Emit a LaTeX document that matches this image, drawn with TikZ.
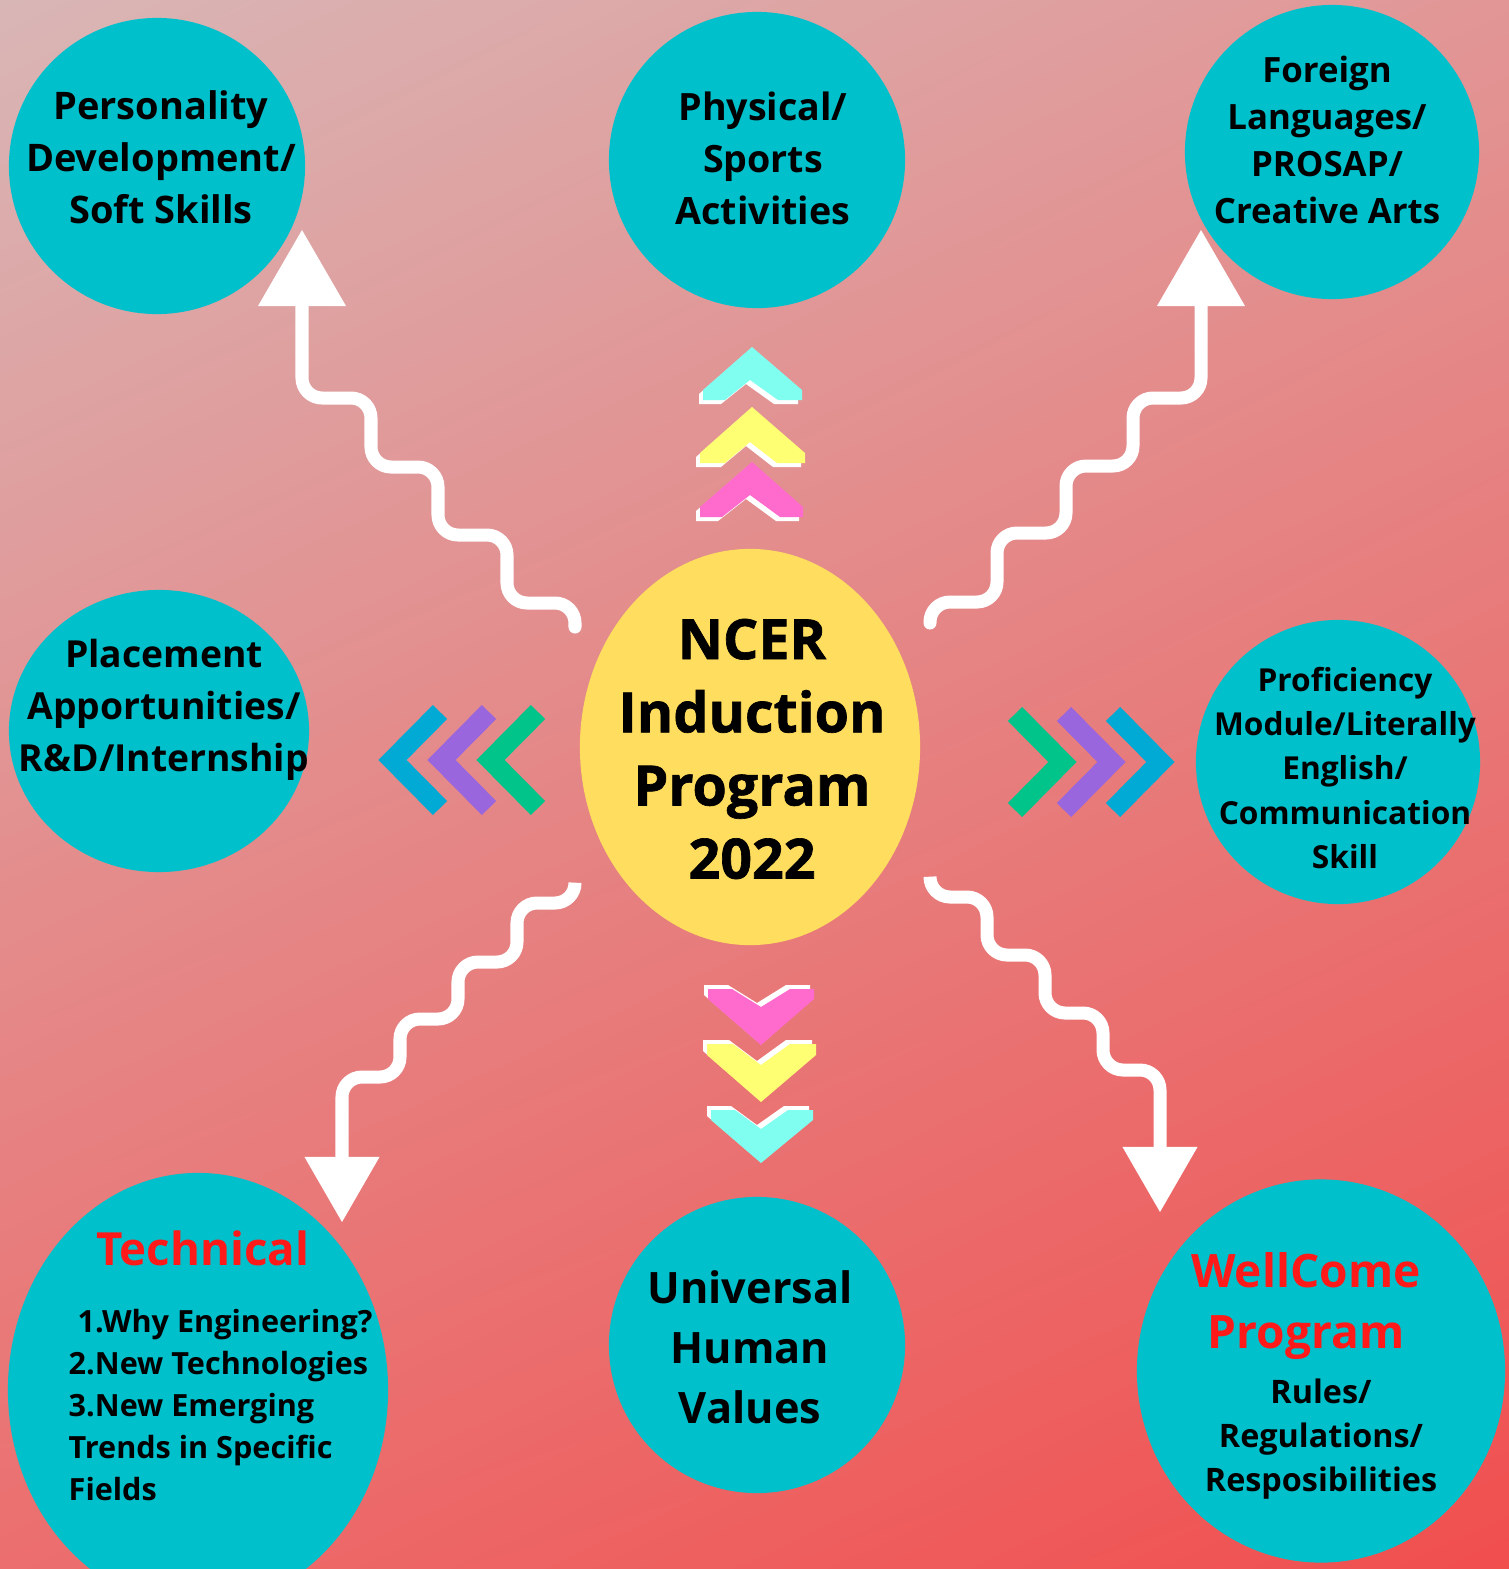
\documentclass[tikz,border=0pt]{standalone}
\usepackage{fontspec}
\setmainfont{Open Sans}
\newfontfamily\corefont[BoldFeatures={FakeBold=1.2}]{Open Sans}
\usetikzlibrary{shapes.geometric,arrows.meta,shadings}

\definecolor{bgTL}{RGB}{217,182,182}
\definecolor{bgTR}{RGB}{226,150,150}
\definecolor{bgBL}{RGB}{236,110,110}
\definecolor{bgBR}{RGB}{241,78,78}
\definecolor{bubbleteal}{RGB}{0,192,204}
\definecolor{coreyellow}{RGB}{255,221,94}
\definecolor{titlered}{RGB}{255,26,26}
\definecolor{chevblue}{RGB}{0,170,212}
\definecolor{chevpurple}{RGB}{153,102,221}
\definecolor{chevgreen}{RGB}{0,196,138}
\definecolor{pixcyan}{RGB}{128,255,240}
\definecolor{pixyellow}{RGB}{255,255,115}
\definecolor{pixpink}{RGB}{255,106,205}

\tikzset{
  bubble/.style={circle, fill=bubbleteal, inner sep=0pt},
  oval/.style={ellipse, fill=bubbleteal, inner sep=0pt},
  lbl/.style 2 args={align=center, inner sep=0pt, font=\bfseries\fontsize{#1}{#2}\selectfont},
  corelbl/.style={align=center, inner sep=0pt, font=\corefont\bfseries\fontsize{15.8pt}{20.8pt}\selectfont},
  stair/.style={draw=white, line width=3.7pt, line cap=round, rounded corners=0.2cm},
  bigtip/.style={-{Triangle[width=0.88cm,length=0.76cm,line width=0pt]}},
  smalltip/.style={-{Triangle[width=0.75cm,length=0.65cm,line width=0pt]}},
  chev/.style={line width=0.2cm},
}

\begin{document}
\begin{tikzpicture}[x=0.01cm, y=-0.01cm]
  \shade[upper left=bgTL, upper right=bgTR, lower left=bgBL, lower right=bgBR]
    (0,0) rectangle (1509,1569);
  \useasboundingbox (0,0) rectangle (1509,1569);

  % bubbles
  \node[oval, minimum width=3.40cm, minimum height=3.96cm, fill=coreyellow] (core) at (750,747) {};
  \node[bubble, minimum size=2.96cm] (pers) at (157,166) {};
  \node[bubble, minimum size=2.96cm] (phys) at (757,160) {};
  \node[bubble, minimum size=2.94cm] (lang) at (1332,152) {};
  \node[oval, minimum width=3.00cm, minimum height=2.82cm] (place) at (159,731) {};
  \node[bubble, minimum size=2.84cm] (prof) at (1338,762) {};
  \node[oval, minimum width=3.80cm, minimum height=4.34cm] (tech) at (198,1390) {};
  \node[bubble, minimum size=2.96cm] (uhv) at (757,1345) {};
  \node[oval, minimum width=3.68cm, minimum height=3.83cm] (welc) at (1321,1371) {};

  % texts
  \node[corelbl] (coreT) at (752,749) {NCER\\Induction\\Program\\2022};
  \node[lbl={10.8pt}{14.8pt}] (persT) at (161,157) {Personality\\Development/\\Soft Skills};
  \node[lbl={10.7pt}{14.8pt}] (physT) at (763,158) {Physical/\\Sports\\Activities};
  \node[lbl={9.9pt}{13.4pt}] (langT) at (1327,140) {Foreign\\Languages/\\PROSAP/\\Creative Arts};
  \node[lbl={10.6pt}{14.8pt}] (placeT) at (164,710) {Placement\\Apportunities/\\R\&D/Internship};
  \node[lbl={9pt}{12.6pt}] (profT) at (1345,768) {Proficiency\\Module/Literally\\English/\\Communication\\Skill};
  \node[lbl={12.3pt}{17.1pt}] (uhvT) at (750,1347) {Universal\\Human\\Values};
  \node[lbl={13pt}{17pt}, text=titlered] (techT) at (203,1248) {Technical};
  \node[lbl={8.7pt}{12pt}, align=left, anchor=west] (techL) at (68,1405)
    {\hspace*{0.09cm}1.Why Engineering?\\2.New Technologies\\3.New Emerging\\Trends in Specific\\Fields};
  \node[lbl={13.1pt}{17.6pt}, text=titlered] (welcT) at (1306,1306) {WellCome\\Program};
  \node[lbl={9.2pt}{12.5pt}] (welcL) at (1321,1439) {Rules/\\Regulations/\\Resposibilities};

  % stair arrows
  \coordinate (persS) at (575,627);
  \coordinate (persE) at (302,230);
  \coordinate (langS) at (930,623);
  \coordinate (langE) at (1201,230);
  \coordinate (techS) at (575,883);
  \coordinate (techE) at (342,1222);
  \coordinate (welcS) at (930,878);
  \coordinate (welcE) at (1160,1212);
  \draw[stair, bigtip] (persS) |- ++(-68,-24) |- ++(-69,-68) |- ++(-67,-68) |- ++(-69,-69) -- (persE);
  \draw[stair, bigtip] (langS) |- ++(67,-21) |- ++(69,-69) |- ++(67,-67) |- ++(68,-68) -- (langE);
  \draw[stair, smalltip] (techS) |- ++(-58,20) |- ++(-59,59) |- ++(-58,57) |- ++(-58,58) -- (techE);
  \draw[stair, smalltip] (welcS) |- ++(57,19) |- ++(58,58) |- ++(58,58) |- ++(57,57) -- (welcE);

  % side chevrons
  \draw[chev, chevblue] (440,712) -- (392.5,760) -- (440,808);
  \draw[chev, chevpurple] (489,712) -- (441.5,760) -- (489,808);
  \draw[chev, chevgreen] (538,712) -- (490.5,760) -- (538,808);
  \draw[chev, chevgreen] (1015,714) -- (1062.5,762) -- (1015,810);
  \draw[chev, chevpurple] (1064,714) -- (1111.5,762) -- (1064,810);
  \draw[chev, chevblue] (1113,714) -- (1160.5,762) -- (1113,810);

  % pixel chevrons up
  \begin{scope}[xshift=-0.04cm, yshift=-0.04cm]
    \fill[white] (703,400) -- (703,390) -- (752,347) -- (802,390) -- (802,400) -- (778,400) -- (750,380) -- (725,400) -- cycle;
    \fill[white] (700,463) -- (700,453) -- (752,407) -- (805,453) -- (805,463) -- (777,463) -- (750,442) -- (725,463) -- cycle;
    \fill[white] (700,517) -- (700,507) -- (752,462) -- (803,507) -- (803,517) -- (780,517) -- (750,495) -- (722,517) -- cycle;
  \end{scope}
  \fill[pixcyan] (703,400) -- (703,390) -- (752,347) -- (802,390) -- (802,400) -- (778,400) -- (750,380) -- (725,400) -- cycle;
  \fill[pixyellow] (700,463) -- (700,453) -- (752,407) -- (805,453) -- (805,463) -- (777,463) -- (750,442) -- (725,463) -- cycle;
  \fill[pixpink] (700,517) -- (700,507) -- (752,462) -- (803,507) -- (803,517) -- (780,517) -- (750,495) -- (722,517) -- cycle;

  % pixel chevrons down
  \begin{scope}[xshift=-0.04cm, yshift=0.04cm]
    \fill[white] (708,989) -- (732,989) -- (761,1007) -- (790,989) -- (814,989) -- (814,999) -- (761,1045) -- (708,999) -- cycle;
    \fill[white] (707,1044) -- (733,1044) -- (761,1065) -- (790,1044) -- (816,1044) -- (816,1055) -- (761,1102) -- (707,1055) -- cycle;
    \fill[white] (711,1110) -- (735,1110) -- (761,1129) -- (788,1110) -- (813,1110) -- (813,1120) -- (761,1163) -- (711,1120) -- cycle;
  \end{scope}
  \fill[pixpink] (708,989) -- (732,989) -- (761,1007) -- (790,989) -- (814,989) -- (814,999) -- (761,1045) -- (708,999) -- cycle;
  \fill[pixyellow] (707,1044) -- (733,1044) -- (761,1065) -- (790,1044) -- (816,1044) -- (816,1055) -- (761,1102) -- (707,1055) -- cycle;
  \fill[pixcyan] (711,1110) -- (735,1110) -- (761,1129) -- (788,1110) -- (813,1110) -- (813,1120) -- (761,1163) -- (711,1120) -- cycle;
\end{tikzpicture}
\end{document}
